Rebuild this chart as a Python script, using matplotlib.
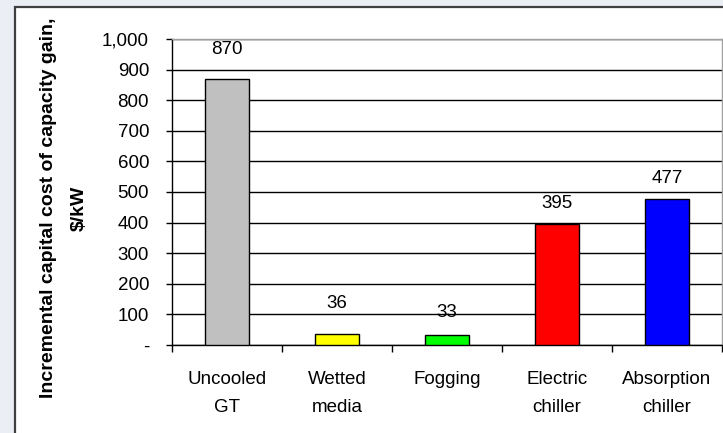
import matplotlib

matplotlib.use("Agg")
import matplotlib.pyplot as plt
from matplotlib.patches import Rectangle
from matplotlib.ticker import FuncFormatter

# Incremental capital cost of the capacity gain for each inlet cooling option
methods = ["Uncooled\nGT", "Wetted\nmedia", "Fogging", "Electric\nchiller", "Absorption\nchiller"]
cost = [870, 36, 33, 395, 477]
bar_colors = ["#c0c0c0", "#ffff00", "#00ff00", "#ff0000", "#0000ff"]
label_offsets = [21, 22, 16, 15, 15]  # points above each bar top

y_ticks = list(range(0, 1001, 100))

plt.rcParams.update({
    "font.family": ["Liberation Sans", "DejaVu Sans"],
    "font.size": 13.5,
})

fig = plt.figure(figsize=(7.23, 4.33), dpi=100)
fig.patch.set_facecolor("#eceef6")

# white chart area with its dark border, kept behind the axes
fig.patches.append(Rectangle((15 / 723, -0.1), 1.2, 1.1 - 7 / 433,
                             transform=fig.transFigure, facecolor="white",
                             edgecolor="#404040", linewidth=1.6, zorder=-5))

ax = fig.add_axes([172 / 723, 1 - 345 / 433, 550 / 723, 306 / 433])
ax.set_facecolor("white")

x = list(range(len(methods)))
bars = ax.bar(x, cost, width=0.4, color=bar_colors, edgecolor="black",
              linewidth=1.0, zorder=3)

for bar, val, off in zip(bars, cost, label_offsets):
    ax.annotate(f"{val}", (bar.get_x() + bar.get_width() / 2, val),
                xytext=(0, off), textcoords="offset points",
                ha="center", va="center", fontsize=13.5)

ax.set_xlim(-0.5, len(methods) - 0.5)
ax.set_ylim(0, 1000)

ax.set_yticks(y_ticks)
ax.yaxis.set_major_formatter(FuncFormatter(lambda v, p: "-" if v == 0 else f"{int(v):,}"))
ax.tick_params(axis="y", direction="out", length=4.5, width=1.0, pad=12,
               labelsize=13.5)

ax.set_xticks([i - 0.5 for i in range(len(methods) + 1)])
ax.set_xticklabels([])
ax.set_xticks(x, minor=True)
ax.set_xticklabels(methods, minor=True, linespacing=1.8)
ax.tick_params(axis="x", which="major", direction="out", length=5, width=1.0)
ax.tick_params(axis="x", which="minor", length=0, pad=19, labelsize=13.5)

ax.grid(axis="y", color="black", linewidth=1.0, zorder=1)
ax.set_axisbelow(True)

for side in ("left", "bottom"):
    ax.spines[side].set_color("black")
    ax.spines[side].set_linewidth(1.0)
for side in ("top", "right"):
    ax.spines[side].set_color("#a0a0a0")
    ax.spines[side].set_linewidth(1.0)

fig.text(64 / 723, 1 - 208 / 433, "Incremental capital cost of capacity gain,\n$/kW",
         rotation=90, ha="center", va="center", fontsize=14,
         fontweight="bold", linespacing=2.0)

fig.savefig("out.png", dpi=100)
